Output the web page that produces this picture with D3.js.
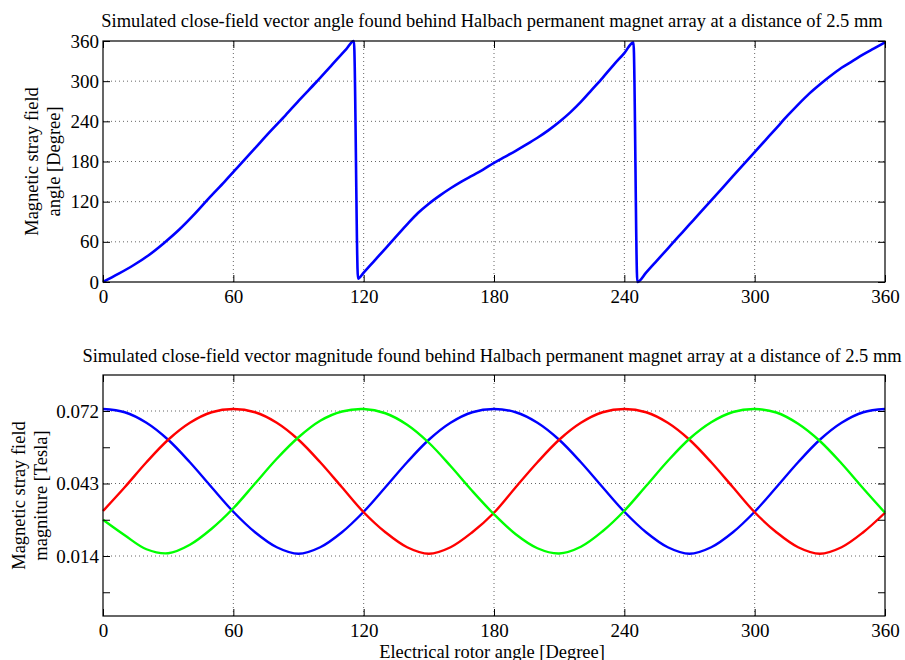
<!DOCTYPE html>
<html>
<head>
<meta charset="utf-8">
<script src="https://cdn.jsdelivr.net/npm/d3@7"></script>
<style>
   body { margin: 0; background: #fff; }
   svg text { font-family: "Liberation Serif", "Times New Roman", serif; fill: #000; }
</style>
</head>
<body>
<div id="chart"></div>
<script>
const width = 905,
   height = 660,
   plotLeft = 103,
   plotRight = 885,
   fontSize = 18.45,
   tickFontSize = 19,
   tickLen = 7;

// upper panel: field angle vs rotor angle
const angleDeg = [0, 7, 14, 21, 28, 35, 42, 49, 56, 63, 70, 77, 84, 91, 98, 105, 112, 115.5,
   117.4, 120, 125, 130, 135, 140, 145, 150, 155, 160, 165, 170, 175, 180,
   185, 190, 195, 200, 205, 210, 215, 220, 225, 230, 235, 240, 244.2,
   246, 250, 255, 260, 265, 270, 275, 280, 285, 290, 295, 300, 305, 310, 315,
   320, 325, 330, 335, 340, 345, 350, 355, 360];
const angleField = [0, 12, 25, 40, 58, 78, 101, 126, 150, 175, 200, 225, 249, 274, 298, 323, 348, 360,
   5, 14, 32, 50, 68, 86, 103, 117, 129, 140, 150, 159, 168, 178,
   187, 196, 205.5, 215.5, 226.5, 239, 253, 269, 287, 305, 324, 342, 358,
   0, 14, 32, 50, 68, 86, 104, 122, 140, 158, 176, 194, 212, 230, 248,
   265, 281, 295, 308, 320, 330, 340, 349, 358];

// lower panel: field magnitude of three sensors
const rotorDeg = [0, 10, 20, 30, 40, 50, 60, 70, 80, 90, 100, 110, 120, 130, 140, 150, 160, 170, 180,
   190, 200, 210, 220, 230, 240, 250, 260, 270, 280, 290, 300, 310, 320, 330, 340, 350, 360];
const blueMag = [0.0733, 0.0720, 0.0678, 0.0610, 0.0520, 0.0420, 0.0322, 0.0240, 0.0180, 0.0154,
   0.0180, 0.0240, 0.0322, 0.0420, 0.0520, 0.0610, 0.0678, 0.0720, 0.0733,
   0.0720, 0.0678, 0.0610, 0.0520, 0.0420, 0.0322, 0.0240, 0.0180, 0.0154,
   0.0180, 0.0240, 0.0322, 0.0420, 0.0520, 0.0610, 0.0678, 0.0720, 0.0733];
const redMag = [0.0325, 0.0420, 0.0520, 0.0610, 0.0678, 0.0720, 0.0733, 0.0720, 0.0678, 0.0610,
   0.0520, 0.0420, 0.0320, 0.0240, 0.0180, 0.0154, 0.0180, 0.0240, 0.0318,
   0.0420, 0.0520, 0.0610, 0.0678, 0.0720, 0.0733, 0.0720, 0.0678, 0.0610,
   0.0520, 0.0420, 0.0320, 0.0240, 0.0180, 0.0154, 0.0180, 0.0240, 0.0318];
const greenMag = [0.0290, 0.0228, 0.0172, 0.0156, 0.0190, 0.0254, 0.0336, 0.0435, 0.0534, 0.0620,
   0.0686, 0.0723, 0.0733, 0.0716, 0.0670, 0.0598, 0.0505, 0.0405, 0.0312,
   0.0232, 0.0176, 0.0155, 0.0182, 0.0244, 0.0326, 0.0425, 0.0525, 0.0614,
   0.0680, 0.0721, 0.0733, 0.0719, 0.0674, 0.0605, 0.0515, 0.0415, 0.0318];

const xTicks = [0, 60, 120, 180, 240, 300, 360];
const angleTicks = [0, 60, 120, 180, 240, 300, 360];
const magTicks = [0, 0.0145, 0.029, 0.0435, 0.058, 0.0725];
const magTickLabels = ['', '0.014', '', '0.043', '', '0.072'];
const magGrid = [0.0145, 0.0435, 0.0725];

const svg = d3.select('#chart')
   .append('svg')
   .attr('viewBox', [0, 0, width, height])
   .attr('width', width)
   .attr('height', height);

const drawPanel = function(p) {
   const x = d3.scaleLinear().domain([0, 360]).range([plotLeft, plotRight]);
   const y = d3.scaleLinear().domain(p.yDomain).range([p.bottom, p.top]);
   const g = svg.append('g');

   // dotted grid
   g.selectAll('.vgrid')
      .data(xTicks.slice(1, -1))
      .join('line')
      .attr('x1', d => x(d)).attr('x2', d => x(d))
      .attr('y1', p.top).attr('y2', p.bottom)
      .attr('stroke', '#666').attr('stroke-dasharray', '1,3');

   g.selectAll('.hgrid')
      .data(p.grid)
      .join('line')
      .attr('x1', plotLeft).attr('x2', plotRight)
      .attr('y1', d => y(d)).attr('y2', d => y(d))
      .attr('stroke', '#666').attr('stroke-dasharray', '1,3');

   // curves
   const line = d3.line()
      .x(d => x(d[0]))
      .y(d => y(d[1]))
      .curve(p.curve);

   p.series.forEach(s => {
      g.append('path')
         .datum(s.x.map((v, i) => [v, s.y[i]]))
         .attr('d', line)
         .attr('fill', 'none')
         .attr('stroke', s.color)
         .attr('stroke-width', p.lineWidth)
         .attr('stroke-linejoin', 'round');
   });

   // axes with inward ticks on all four sides
   const bottomAxis = g.append('g')
      .attr('transform', `translate(0, ${p.bottom})`)
      .call(d3.axisBottom(x).tickValues(xTicks).tickSize(-tickLen).tickPadding(7.5));
   g.append('g')
      .attr('transform', `translate(0, ${p.top})`)
      .call(d3.axisTop(x).tickValues(xTicks).tickSize(-tickLen).tickFormat(''));
   g.append('g')
      .attr('transform', `translate(${plotLeft}, 0)`)
      .call(d3.axisLeft(y).tickValues(p.yTicks).tickSize(-tickLen).tickPadding(4)
         .tickFormat((d, i) => p.yLabels[i]));
   g.append('g')
      .attr('transform', `translate(${plotRight}, 0)`)
      .call(d3.axisRight(y).tickValues(p.yTicks).tickSize(-tickLen).tickFormat(''));

   g.selectAll('.domain').remove();
   g.selectAll('.tick line').attr('stroke', '#000');
   g.selectAll('.tick text')
      .style('font-family', '"Liberation Serif", serif')
      .style('font-size', tickFontSize + 'px')
      .attr('fill', '#000');
   bottomAxis.selectAll('text').attr('dy', '0.71em');

   g.append('rect')
      .attr('x', plotLeft)
      .attr('y', p.top)
      .attr('width', plotRight - plotLeft)
      .attr('height', p.bottom - p.top)
      .attr('fill', 'none')
      .attr('stroke', '#000')
      .attr('stroke-width', 1.2);

   g.append('text')
      .attr('x', (plotLeft + plotRight) / 2 - 2)
      .attr('y', p.titleY)
      .attr('text-anchor', 'middle')
      .style('font-size', fontSize + 'px')
      .text(p.title);

   p.yTitle.forEach((t, i) => {
      g.append('text')
         .attr('transform', `translate(${p.yTitleX[i]}, ${(p.top + p.bottom) / 2}) rotate(-90)`)
         .attr('text-anchor', 'middle')
         .style('font-size', fontSize + 'px')
         .text(t);
   });
};

drawPanel({
   top: 41,
   bottom: 282,
   yDomain: [0, 360],
   yTicks: angleTicks,
   yLabels: angleTicks.map(String),
   grid: angleTicks.slice(1, -1),
   curve: d3.curveMonotoneX,
   lineWidth: 2.6,
   series: [{x: angleDeg, y: angleField, color: '#0000ff'}],
   title: 'Simulated close-field vector angle found behind Halbach permanent magnet array at a distance of 2.5 mm',
   titleY: 27,
   yTitle: ['Magnetic stray field', 'angle [Degree]'],
   yTitleX: [38, 60]
});

drawPanel({
   top: 375,
   bottom: 616,
   yDomain: [-0.0095, 0.0869],
   yTicks: magTicks,
   yLabels: magTickLabels,
   grid: magGrid,
   curve: d3.curveCatmullRom,
   lineWidth: 2.4,
   series: [
      {x: rotorDeg, y: blueMag, color: '#0000ff'},
      {x: rotorDeg, y: redMag, color: '#ff0000'},
      {x: rotorDeg, y: greenMag, color: '#00ff00'}
   ],
   title: 'Simulated close-field vector magnitude found behind Halbach permanent magnet array at a distance of 2.5 mm',
   titleY: 361.5,
   yTitle: ['Magnetic stray field', 'magniture [Tesla]'],
   yTitleX: [25, 47]
});

svg.append('text')
   .attr('x', (plotLeft + plotRight) / 2 - 2)
   .attr('y', 657.5)
   .attr('text-anchor', 'middle')
   .style('font-size', fontSize + 'px')
   .text('Electrical rotor angle [Degree]');
</script>
</body>
</html>
